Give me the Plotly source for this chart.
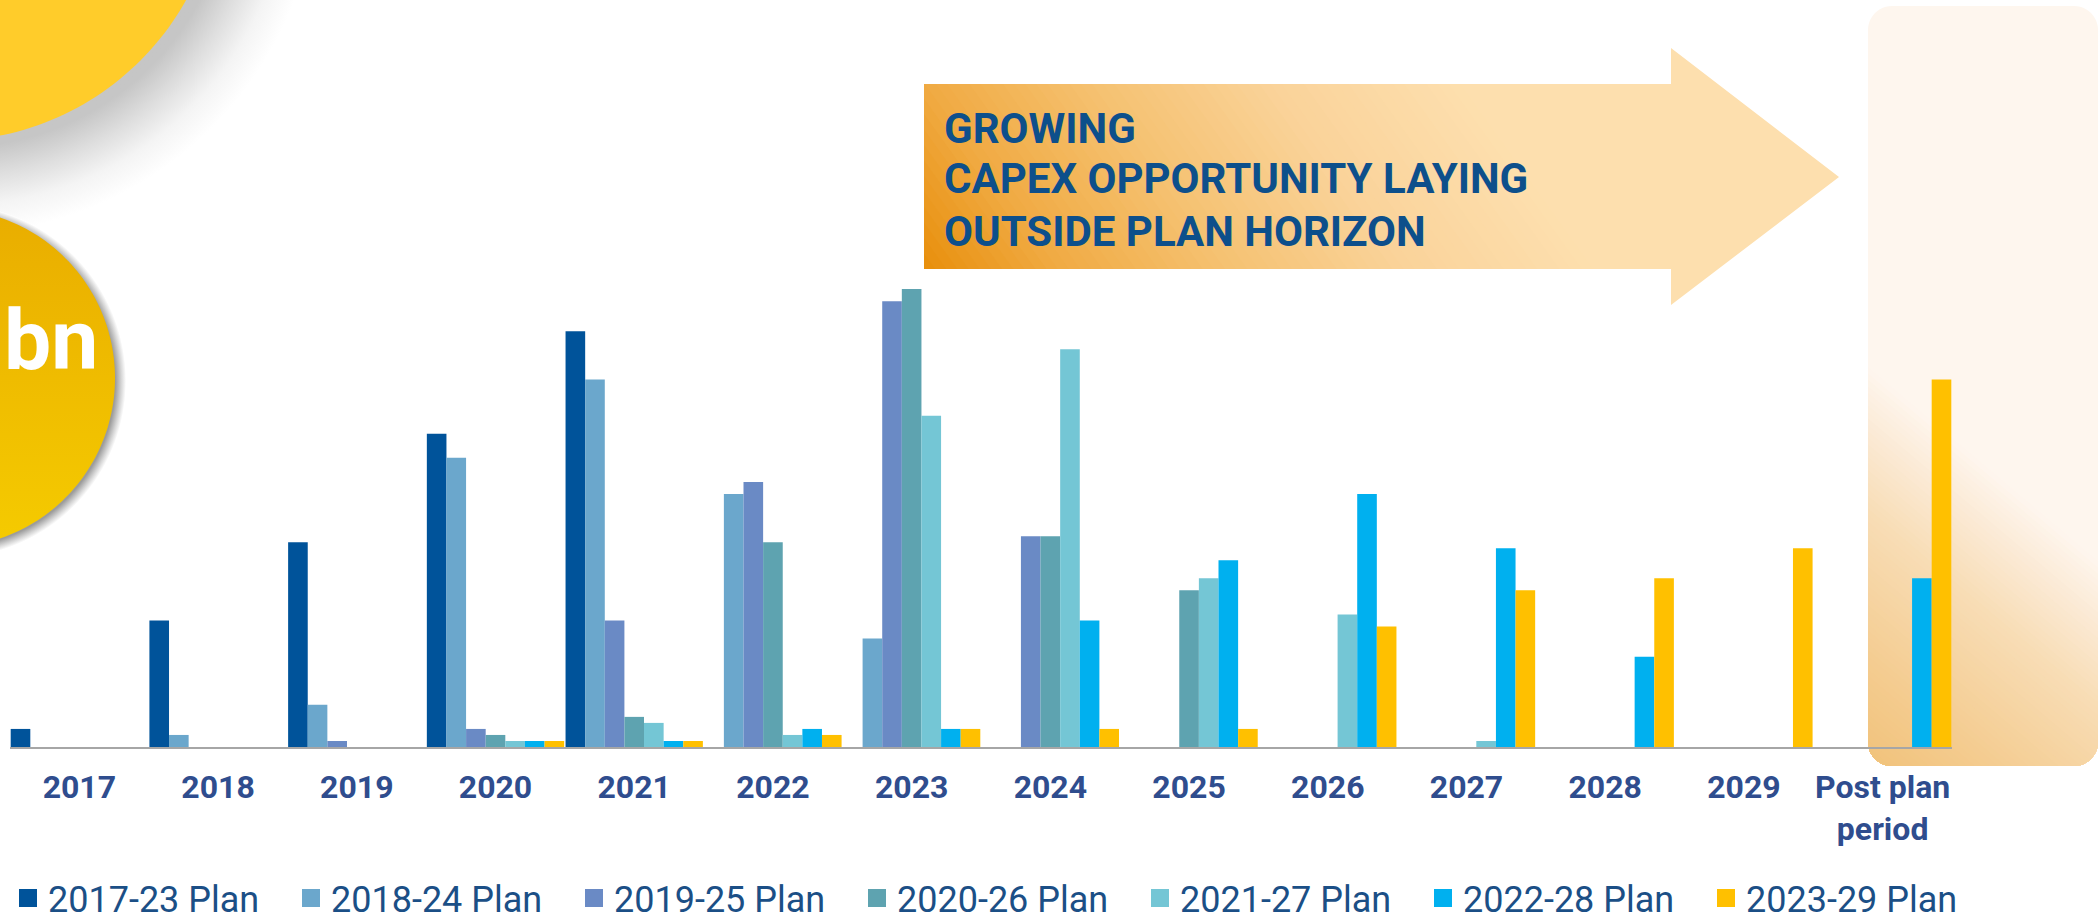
import math
import plotly.graph_objects as go

# ---------------- data ----------------
categories = ["2017", "2018", "2019", "2020", "2021", "2022", "2023", "2024",
              "2025", "2026", "2027", "2028", "2029", "Post plan<br>period"]

plan_2017_23 = [0.3, 2.1, 3.4, 5.2, 6.9, None, None, None, None, None, None, None, None, None]
plan_2018_24 = [None, 0.2, 0.7, 4.8, 6.1, 4.2, 1.8, None, None, None, None, None, None, None]
plan_2019_25 = [None, None, 0.1, 0.3, 2.1, 4.4, 7.4, 3.5, None, None, None, None, None, None]
plan_2020_26 = [None, None, None, 0.2, 0.5, 3.4, 7.6, 3.5, 2.6, None, None, None, None, None]
plan_2021_27 = [None, None, None, 0.1, 0.4, 0.2, 5.5, 6.6, 2.8, 2.2, 0.1, None, None, None]
plan_2022_28 = [None, None, None, 0.1, 0.1, 0.3, 0.3, 2.1, 3.1, 4.2, 3.3, 1.5, None, 2.8]
plan_2023_29 = [None, None, None, 0.1, 0.1, 0.2, 0.3, 0.3, 0.3, 2.0, 2.6, 2.8, 3.3, 6.1]

series_names = ["2017-23 Plan", "2018-24 Plan", "2019-25 Plan", "2020-26 Plan",
                "2021-27 Plan", "2022-28 Plan", "2023-29 Plan"]
series_values = [plan_2017_23, plan_2018_24, plan_2019_25, plan_2020_26,
                 plan_2021_27, plan_2022_28, plan_2023_29]
series_colors = ["#00539A", "#6BA7CC", "#6A8AC5", "#5EA3B0", "#74C6D5", "#00B0EF", "#FFC000"]

arrow_lines = ["GROWING", "CAPEX OPPORTUNITY LAYING", "OUTSIDE PLAN HORIZON"]

# ---------------- helpers (decoration geometry in pixel space) ----------------
W, H = 2100, 920


def to_data(px, py):
    return px, H - py


def circle(cx, cy, r, n=240):
    xs, ys = [], []
    for i in range(n + 1):
        a = 2 * math.pi * i / n
        x, y = to_data(cx + r * math.cos(a), cy + r * math.sin(a))
        xs.append(x)
        ys.append(y)
    return xs, ys


def rounded_rect_px(x0, y0, x1, y1, rad, n=12):
    pts = []
    corners = [(x1 - rad, y0 + rad, -90), (x1 - rad, y1 - rad, 0),
               (x0 + rad, y1 - rad, 90), (x0 + rad, y0 + rad, 180)]
    for cx, cy, a0 in corners:
        for i in range(n + 1):
            a = math.radians(a0 + 90 * i / n)
            pts.append((cx + rad * math.cos(a), cy + rad * math.sin(a)))
    return pts


def px_to_xy(points):
    pts = [to_data(x, y) for x, y in points] + [to_data(*points[0])]
    return [p[0] for p in pts], [p[1] for p in pts]


def deco(xs, ys, grad=None, color=None):
    kw = dict(x=xs, y=ys, mode="none", fill="toself", hoverinfo="skip",
              showlegend=False, xaxis="x", yaxis="y")
    if grad is not None:
        kw["fillgradient"] = grad
    if color is not None:
        kw["fillcolor"] = color
    return go.Scatter(**kw)


def hex_rgb(h):
    h = h.lstrip("#")
    return tuple(int(h[i:i + 2], 16) for i in (0, 2, 4))


def color_at(stops, s):
    if s <= stops[0][0]:
        return stops[0][1]
    for (s0, c0), (s1, c1) in zip(stops, stops[1:]):
        if s <= s1:
            t = (s - s0) / (s1 - s0)
            a, b = hex_rgb(c0), hex_rgb(c1)
            return "rgb(%d,%d,%d)" % tuple(round(a[i] + (b[i] - a[i]) * t) for i in range(3))
    return stops[-1][1]


def clip(points, f):
    out = []
    n = len(points)
    for i in range(n):
        p, q = points[i], points[(i + 1) % n]
        fp, fq = f(p), f(q)
        if fp >= 0:
            out.append(p)
        if (fp >= 0) != (fq >= 0):
            t = fp / (fp - fq)
            out.append((p[0] + (q[0] - p[0]) * t, p[1] + (q[1] - p[1]) * t))
    return out


def diagonal_gradient(points, p0, nvec, stops, nbands=60):
    ln = math.hypot(*nvec)
    nx, ny = nvec[0] / ln, nvec[1] / ln

    def s(p):
        return (p[0] - p0[0]) * nx + (p[1] - p0[1]) * ny

    vals = [s(p) for p in points]
    smin, smax = max(0.0, min(vals)), max(vals)
    traces = [deco(*px_to_xy(points), color=color_at(stops, min(vals)))]
    step = (smax - smin) / nbands
    for k in range(nbands):
        lev = smin + step * k
        part = clip(points, lambda p, lev=lev: s(p) - lev)
        if len(part) >= 3:
            traces.append(deco(*px_to_xy(part), color=color_at(stops, lev + step * 0.5)))
    return traces


fig = go.Figure()

# post plan highlight panel (diagonal gradient towards bottom-left)
panel = rounded_rect_px(1868, 6, 2098, 766, 24)
for t in diagonal_gradient(panel, (1868, 367), (-194, 230),
                           [(0, "#FEF6EE"), (30, "#FCEEDE"), (109, "#F8DDB6"),
                            (226, "#F4CC90"), (305, "#F1C27A")]):
    fig.add_trace(t)

# top-left circle with soft shadow
xs, ys = circle(-44, -128, 362)
fig.add_trace(deco(xs, ys, grad=dict(type="radial",
                                     colorscale=[[0, "#C4C4C4"], [0.76, "#C6C6C6"], [0.84, "#DEDEDE"],
                                                 [0.92, "#F4F4F4"], [1, "#FFFFFF"]]),
                   color="#DDDDDD"))
xs, ys = circle(-54, -134, 275)
fig.add_trace(deco(xs, ys, color="#FFCC2A"))

# second circle with thin shadow
xs, ys = circle(-51, 381, 177)
fig.add_trace(deco(xs, ys, grad=dict(type="radial",
                                     colorscale=[[0, "#999999"], [0.94, "#9C9C9C"], [0.975, "#D8D8D8"],
                                                 [1, "#FFFFFF"]]),
                   color="#AAAAAA"))
xs, ys = circle(-54.5, 378, 169.5)
fig.add_trace(deco(xs, ys, grad=dict(type="vertical", start=920 - 548, stop=920 - 208,
                                     colorscale=[[0, "#F5CB00"], [1, "#E9AD00"]]),
                   color="#EFBC00"))

# arrow (diagonal gradient, dark at bottom-left)
arrow = [(924, 84), (1671, 84), (1671, 48), (1839, 177), (1671, 305), (1671, 269), (924, 269)]
for t in diagonal_gradient(arrow, (1460, 84), (-185, 133),
                           [(0, "#FDDFAE"), (150, "#FAD39A"), (300, "#F5C170"),
                            (435, "#F0AA42"), (545, "#E88E0A")]):
    fig.add_trace(t)

# ---------------- bars ----------------
for name, vals, col in zip(series_names, series_values, series_colors):
    fig.add_trace(go.Bar(x=categories, y=vals, name=name, marker=dict(color=col, line=dict(width=0)),
                         xaxis="x2", yaxis="y2", showlegend=False, legendgroup=name))
    fig.add_trace(go.Scatter(x=[None], y=[None], mode="markers", name=name, legendgroup=name,
                             marker=dict(symbol="square", size=16, color=col, line=dict(width=2, color=col)),
                             xaxis="x2", yaxis="y2", showlegend=True))

# ---------------- annotations ----------------
annotations = [dict(x=100, y=H - 340, xref="x", yref="y", text="bn", showarrow=False,
                    xanchor="right", yanchor="middle",
                    font=dict(family="Roboto", size=84, color="white", weight="bold"))]
for txt, cy in zip(arrow_lines, [128, 178, 231]):
    annotations.append(dict(x=942, y=H - cy, xref="x", yref="y", text=txt, showarrow=False,
                            xanchor="left", yanchor="middle",
                            font=dict(family="Roboto", size=42, color="#0D4F8B", weight="bold")))

fig.update_layout(
    width=W, height=H, autosize=False,
    margin=dict(l=0, r=0, t=0, b=0, autoexpand=False),
    paper_bgcolor="white", plot_bgcolor="rgba(0,0,0,0)",
    barmode="group", bargap=0.01, bargroupgap=0,
    xaxis=dict(domain=[0, 1], range=[0, W], visible=False, fixedrange=True, automargin=False),
    yaxis=dict(domain=[0, 1], range=[0, H], visible=False, fixedrange=True, automargin=False),
    xaxis2=dict(domain=[10 / W, 1952 / W], anchor="y2", type="category", automargin=False,
                showline=True, linecolor="#A6A6A6", linewidth=2,
                ticks="outside", ticklen=11, tickcolor="rgba(0,0,0,0)",
                tickfont=dict(family="Roboto", size=32, color="#2F4D8E", weight="bold"),
                showgrid=False, zeroline=False, fixedrange=True),
    yaxis2=dict(domain=[(H - 747) / H, (H - 265) / H], anchor="x2", range=[0, 8],
                visible=False, fixedrange=True, automargin=False),
    showlegend=True,
    legend=dict(orientation="h", x=8 / W, y=(H - 898) / H, xanchor="left", yanchor="middle",
                font=dict(family="Roboto", size=36, color="#1B4F86"),
                entrywidth=238, entrywidthmode="pixels", bgcolor="rgba(0,0,0,0)",
                itemclick=False, itemdoubleclick=False),
    annotations=annotations,
    hovermode=False,
)

fig.write_html("out.html", config={"displayModeBar": False},
               post_script="document.body.style.margin='0';document.body.style.overflow='hidden';")
